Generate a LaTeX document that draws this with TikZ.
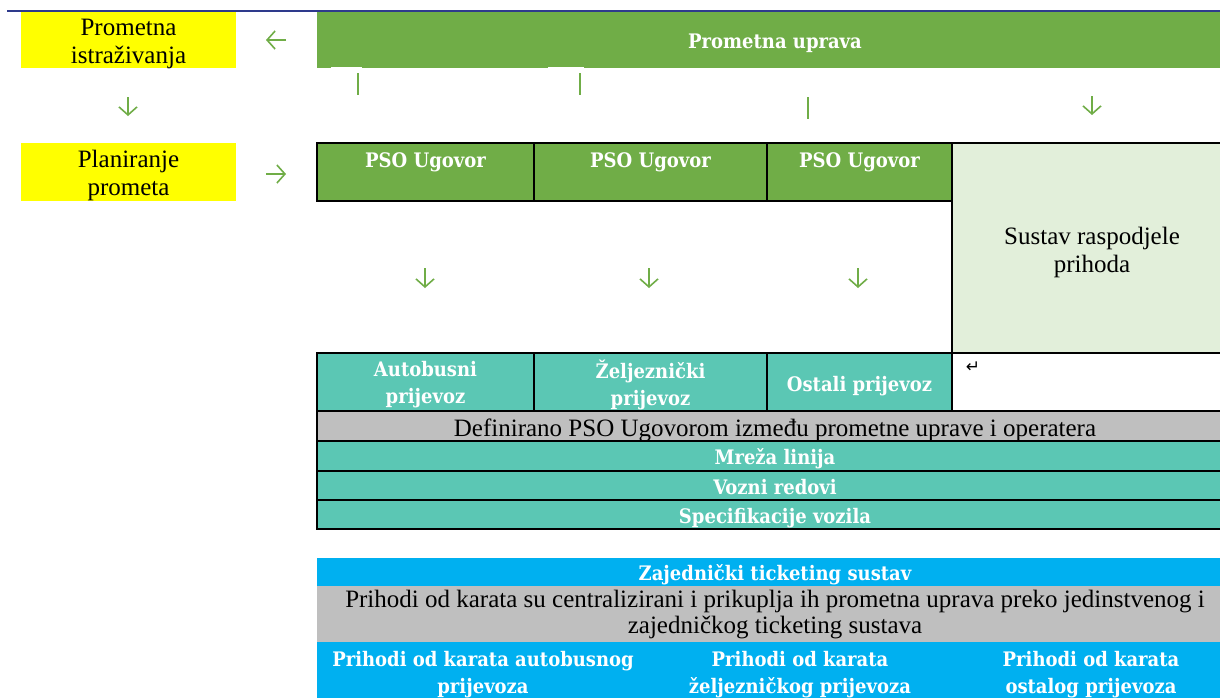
\documentclass[tikz,border=0pt]{standalone}
\usepackage{fontspec}
\setmainfont{Liberation Serif}
\newfontfamily\wserif{DejaVu Serif Condensed}
\newfontfamily\symsans{DejaVu Sans}
\usetikzlibrary{arrows.meta}
\definecolor{pgreen}{HTML}{70AD47}
\definecolor{lgreen}{HTML}{E2EFDA}
\definecolor{tealc}{HTML}{5BC7B4}
\definecolor{greyc}{HTML}{BFBFBF}
\definecolor{bluec}{HTML}{00B0F0}
\definecolor{yell}{HTML}{FFFF00}
\definecolor{navy}{HTML}{2E3A8C}
\begin{document}
\begin{tikzpicture}[x=1pt,y=-1pt,
  box/.style={anchor=north west, inner sep=0pt, outer sep=0pt},
  bk/.style={font=\fontsize{25}{28}\selectfont, text=black, align=center, inner sep=0pt},
  wt/.style={font=\wserif\bfseries\fontsize{20}{27}\selectfont, text=white, align=center, inner sep=0pt},
  dn/.style={yshift=-#1pt},
  tbl/.style={draw=black, line width=2pt},
  garrow/.style={draw=pgreen, line width=1.6pt, -{Straight Barb[length=8pt,width=18pt,line width=1.6pt]}},
  gtick/.style={draw=pgreen, line width=2pt}]
\useasboundingbox (0,0) rectangle (1220,697);
\fill[white] (0,0) rectangle (1220,697);
% top rule
\draw[navy, line width=2.2pt] (7,11) -- (1222,11);
% left column
\node[box, fill=yell, minimum width=215, minimum height=56] (istr) at (21,12) {};
\node[bk, dn=4] (istrT) at (istr.center) {Prometna\\istraživanja};
\node[box, fill=yell, minimum width=215, minimum height=58] (plan) at (21,143) {};
\node[bk, dn=3] (planT) at (plan.center) {Planiranje\\prometa};
% top band
\node[box, fill=pgreen, minimum width=916, minimum height=56] (uprava) at (317,12) {};
\node[wt, dn=3] (upravaT) at (uprava.center) {Prometna uprava};
\fill[white] (331,67) rectangle (362,68.6);
\fill[white] (548,67) rectangle (584,68.6);
% PSO row
\node[box, fill=pgreen, tbl, minimum width=217, minimum height=58] (pso1) at (317,143) {};
\node[box, fill=pgreen, tbl, minimum width=233, minimum height=58] (pso2) at (534,143) {};
\node[box, fill=pgreen, tbl, minimum width=185, minimum height=58] (pso3) at (767,143) {};
\node[wt] (pso1t) at (425.5,162) {PSO Ugovor};
\node[wt] (pso2t) at (650.5,162) {PSO Ugovor};
\node[wt] (pso3t) at (859.5,162) {PSO Ugovor};
\node[box, fill=lgreen, tbl, minimum width=280, minimum height=210] (sustav) at (952,143) {};
\node[bk, dn=4] (sustavT) at (sustav.center) {Sustav raspodjele\\prihoda};
% transport row
\node[box, fill=tealc, tbl, minimum width=217, minimum height=58] (bus) at (317,353) {};
\node[box, fill=tealc, tbl, minimum width=233, minimum height=58] (rail) at (534,353) {};
\node[box, fill=tealc, tbl, minimum width=185, minimum height=58] (other) at (767,353) {};
\node[box, fill=white, tbl, minimum width=280, minimum height=58] (blank) at (952,353) {};
\node[wt, dn=3] (busT) at (bus.center) {Autobusni\\prijevoz};
\node[wt, dn=3] (railT) at (rail.center) {Željeznički\\prijevoz};
\node[wt, dn=4] (otherT) at (other.center) {Ostali prijevoz};
\node[font=\symsans\fontsize{17}{17}\selectfont, inner sep=0pt] (ret) at (973,367) {↵};
% definition rows
\node[box, fill=greyc, tbl, minimum width=916, minimum height=30] (def) at (317,411) {};
\node[box, fill=tealc, tbl, minimum width=916, minimum height=30] (mreza) at (317,441) {};
\node[box, fill=tealc, tbl, minimum width=916, minimum height=29] (vozni) at (317,471) {};
\node[box, fill=tealc, tbl, minimum width=916, minimum height=29] (spec) at (317,500) {};
\node[bk, dn=4] (defT) at (def.center) {Definirano PSO Ugovorom između prometne uprave i operatera};
\node[wt, dn=3] (mrezaT) at (mreza.center) {Mreža linija};
\node[wt, dn=2] (vozniT) at (vozni.center) {Vozni redovi};
\node[wt, dn=4] (specT) at (spec.center) {Specifikacije vozila};
% ticketing block
\node[box, fill=bluec, minimum width=916, minimum height=28] (zaj) at (317,558) {};
\node[wt, dn=3] (zajT) at (zaj.center) {Zajednički ticketing sustav};
\node[box, fill=greyc, minimum width=916, minimum height=56] (prih) at (317,586) {};
\node[bk, dn=1, font=\fontsize{25}{26}\selectfont] (prihT) at (prih.center) {Prihodi od karata su centralizirani i prikuplja ih prometna uprava preko jedinstvenog i\\zajedničkog ticketing sustava};
\node[box, fill=bluec, minimum width=916, minimum height=60] (bot) at (317,642) {};
\node[wt] (botA) at (483,675) {Prihodi od karata autobusnog\\prijevoza};
\node[wt] (botB) at (800,675) {Prihodi od karata\\željezničkog prijevoza};
\node[wt] (botC) at (1091,675) {Prihodi od karata\\ostalog prijevoza};
% arrows
\coordinate (a1s) at (286,40); \coordinate (a1e) at (266,40);
\coordinate (a2s) at (128,97); \coordinate (a2e) at (128,116);
\coordinate (a3s) at (266,174); \coordinate (a3e) at (286,174);
\coordinate (a4s) at (1092,96); \coordinate (a4e) at (1092,115);
\coordinate (a5s) at (425,268); \coordinate (a5e) at (425,288);
\coordinate (a6s) at (649,268); \coordinate (a6e) at (649,288);
\coordinate (a7s) at (858,268); \coordinate (a7e) at (858,288);
\draw[garrow] (a1s) -- (a1e);
\draw[garrow] (a2s) -- (a2e);
\draw[garrow] (a3s) -- (a3e);
\draw[garrow] (a4s) -- (a4e);
\draw[garrow] (a5s) -- (a5e);
\draw[garrow] (a6s) -- (a6e);
\draw[garrow] (a7s) -- (a7e);
% ticks
\coordinate (t1s) at (358,73); \coordinate (t1e) at (358,95);
\coordinate (t2s) at (580,73); \coordinate (t2e) at (580,95);
\coordinate (t3s) at (808,97); \coordinate (t3e) at (808,119);
\draw[gtick] (t1s) -- (t1e);
\draw[gtick] (t2s) -- (t2e);
\draw[gtick] (t3s) -- (t3e);
\end{tikzpicture}
\end{document}
